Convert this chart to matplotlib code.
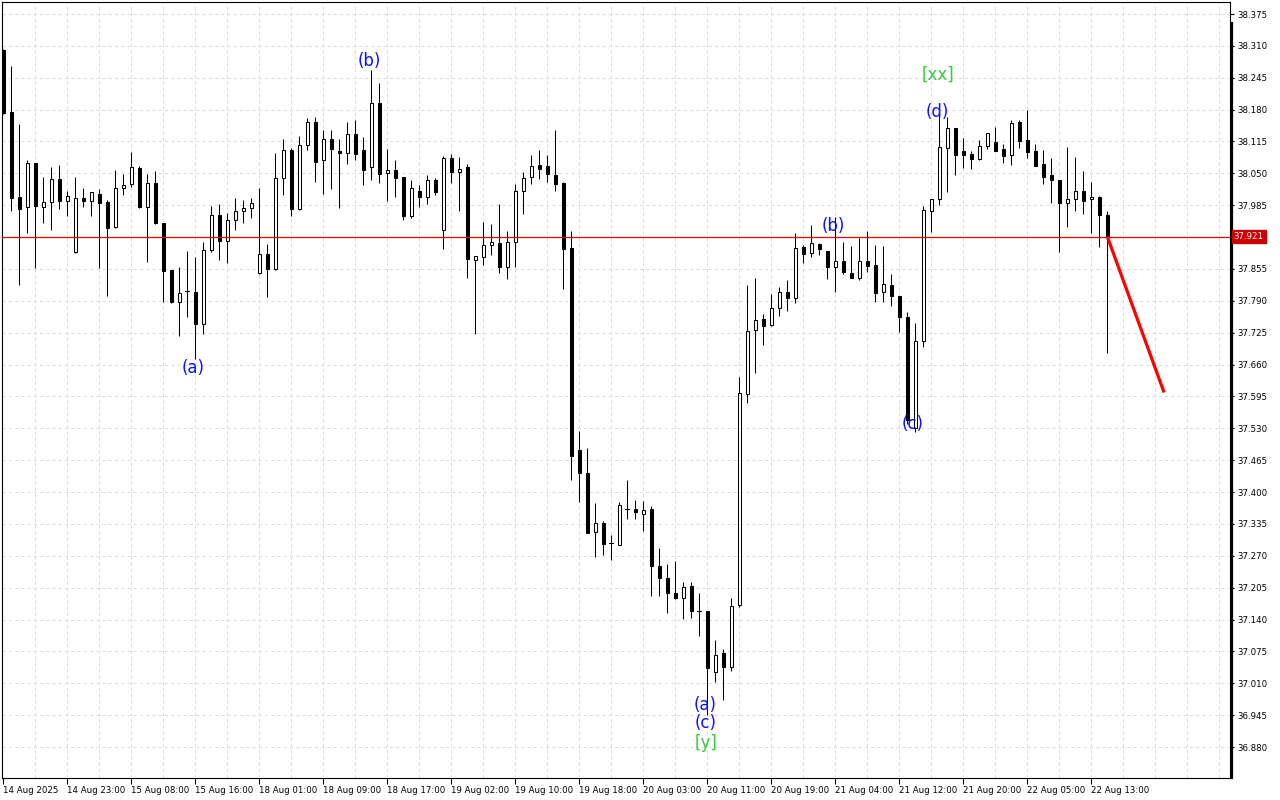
import matplotlib
matplotlib.use("Agg")
import matplotlib.pyplot as plt
from matplotlib.patches import Rectangle
from matplotlib.transforms import blended_transform_factory

# ---------------- data (H1 candles) ----------------
opens = [38.302, 38.175, 38.002, 37.981, 38.071, 37.981, 37.991, 38.038, 37.993, 37.889,
         37.999, 37.993, 38.008, 37.991, 37.941, 38.020, 38.028, 38.061, 37.981, 38.030,
         37.948, 37.853, 37.788, 37.810, 37.808, 37.742, 37.893, 37.965, 37.913, 37.954,
         37.973, 37.979, 37.846, 37.886, 37.854, 38.040, 38.097, 37.977, 38.108, 38.154,
         38.077, 38.120, 38.096, 38.091, 38.130, 38.097, 38.062, 38.193, 38.050, 38.056,
         38.043, 37.964, 38.013, 38.001, 38.036, 37.934, 38.081, 38.052, 38.063, 37.873,
         37.880, 37.903, 37.907, 37.858, 37.909, 38.013, 38.042, 38.067, 38.065, 38.047,
         38.030, 37.897, 37.485, 37.439, 37.318, 37.336, 37.296, 37.293, 37.365, 37.365,
         37.355, 37.366, 37.249, 37.224, 37.195, 37.183, 37.208, 37.157, 37.157, 37.034,
         37.071, 37.043, 37.169, 37.600, 37.730, 37.752, 37.740, 37.775, 37.807, 37.795,
         37.899, 37.887, 37.905, 37.891, 37.858, 37.871, 37.847, 37.837, 37.871, 37.863,
         37.807, 37.822, 37.799, 37.757, 37.530, 37.708, 37.974, 37.997, 38.101, 38.143,
         38.095, 38.090, 38.080, 38.105, 38.113, 38.100, 38.087, 38.154, 38.117, 38.095,
         38.069, 38.047, 38.036, 37.989, 37.997, 38.014, 37.997, 38.002, 37.966]
highs = [38.304, 38.268, 38.151, 38.077, 38.071, 38.043, 38.063, 38.067, 38.013, 38.043,
         38.020, 38.011, 38.018, 37.996, 38.057, 38.049, 38.094, 38.065, 38.049, 38.054,
         37.949, 37.853, 37.859, 37.892, 37.880, 37.910, 37.983, 37.988, 37.969, 37.999,
         37.996, 37.999, 38.020, 37.906, 38.092, 38.120, 38.102, 38.126, 38.163, 38.164,
         38.138, 38.138, 38.120, 38.155, 38.159, 38.124, 38.261, 38.234, 38.100, 38.077,
         38.043, 38.037, 38.026, 38.047, 38.040, 38.086, 38.090, 38.083, 38.069, 37.882,
         37.951, 37.947, 37.988, 37.933, 38.028, 38.053, 38.088, 38.098, 38.088, 38.138,
         38.032, 37.933, 37.525, 37.490, 37.378, 37.340, 37.312, 37.379, 37.425, 37.384,
         37.382, 37.371, 37.286, 37.253, 37.259, 37.217, 37.217, 37.194, 37.158, 37.098,
         37.079, 37.184, 37.635, 37.822, 37.837, 37.763, 37.804, 37.818, 37.833, 37.928,
         37.904, 37.944, 37.908, 37.891, 37.960, 37.910, 37.901, 37.918, 37.933, 37.903,
         37.901, 37.844, 37.800, 37.767, 37.744, 37.984, 37.998, 38.193, 38.164, 38.143,
         38.123, 38.096, 38.118, 38.132, 38.145, 38.109, 38.159, 38.159, 38.179, 38.110,
         38.098, 38.081, 38.036, 38.104, 38.083, 38.054, 38.032, 38.003, 37.973]
lows = [38.171, 37.974, 37.822, 37.929, 37.856, 37.949, 37.935, 37.978, 37.963, 37.887,
        37.982, 37.963, 37.856, 37.800, 37.939, 38.005, 38.023, 37.980, 37.870, 37.947,
        37.788, 37.786, 37.719, 37.758, 37.671, 37.722, 37.890, 37.874, 37.868, 37.935,
        37.948, 37.958, 37.845, 37.798, 37.852, 38.006, 37.962, 37.976, 38.098, 38.033,
        38.008, 38.019, 37.980, 38.069, 38.077, 38.027, 38.037, 38.031, 37.994, 38.002,
        37.954, 37.958, 37.981, 37.987, 38.005, 37.896, 38.031, 37.974, 37.837, 37.722,
        37.863, 37.884, 37.847, 37.834, 37.858, 37.967, 38.029, 38.039, 38.033, 38.015,
        37.815, 37.425, 37.380, 37.316, 37.268, 37.272, 37.261, 37.291, 37.346, 37.346,
        37.320, 37.189, 37.187, 37.154, 37.182, 37.142, 37.144, 37.107, 36.945, 37.013,
        36.975, 37.036, 37.165, 37.582, 37.643, 37.699, 37.739, 37.760, 37.769, 37.786,
        37.867, 37.880, 37.884, 37.834, 37.809, 37.844, 37.836, 37.833, 37.848, 37.787,
        37.787, 37.779, 37.726, 37.539, 37.522, 37.695, 37.931, 37.986, 38.011, 38.047,
        38.060, 38.058, 38.078, 38.100, 38.096, 38.071, 38.068, 38.102, 38.081, 38.064,
        38.029, 37.990, 37.890, 37.940, 37.974, 37.968, 37.929, 37.900, 37.684]
closes = [38.173, 38.000, 37.977, 38.071, 37.984, 37.991, 38.038, 37.993, 38.003, 37.999,
          37.993, 38.011, 37.990, 37.939, 38.020, 38.026, 38.063, 37.981, 38.030, 37.948,
          37.851, 37.788, 37.806, 37.809, 37.742, 37.893, 37.965, 37.913, 37.954, 37.973,
          37.979, 37.989, 37.885, 37.854, 38.040, 38.097, 37.977, 38.108, 38.154, 38.074,
          38.120, 38.100, 38.091, 38.130, 38.089, 38.056, 38.193, 38.048, 38.056, 38.040,
          37.964, 38.020, 38.001, 38.036, 38.011, 38.081, 38.053, 38.058, 37.875, 37.882,
          37.903, 37.911, 37.858, 37.909, 38.013, 38.040, 38.065, 38.058, 38.048, 38.028,
          37.896, 37.474, 37.438, 37.317, 37.336, 37.295, 37.296, 37.373, 37.364, 37.359,
          37.363, 37.249, 37.224, 37.195, 37.183, 37.206, 37.158, 37.156, 37.041, 37.067,
          37.043, 37.167, 37.602, 37.729, 37.750, 37.738, 37.775, 37.807, 37.795, 37.897,
          37.885, 37.907, 37.895, 37.858, 37.871, 37.848, 37.837, 37.871, 37.862, 37.806,
          37.824, 37.799, 37.757, 37.547, 37.708, 37.975, 37.998, 38.104, 38.142, 38.088,
          38.088, 38.080, 38.106, 38.132, 38.096, 38.086, 38.152, 38.115, 38.094, 38.065,
          38.043, 38.036, 37.989, 37.997, 38.014, 37.994, 38.001, 37.966, 37.921]

x_tick_labels = ["14 Aug 2025", "14 Aug 23:00", "15 Aug 08:00", "15 Aug 16:00",
                 "18 Aug 01:00", "18 Aug 09:00", "18 Aug 17:00", "19 Aug 02:00",
                 "19 Aug 10:00", "19 Aug 18:00", "20 Aug 03:00", "20 Aug 11:00",
                 "20 Aug 19:00", "21 Aug 04:00", "21 Aug 12:00", "21 Aug 20:00",
                 "22 Aug 05:00", "22 Aug 13:00"]
y_tick_values = [36.880, 36.945, 37.010, 37.075, 37.140, 37.205, 37.270, 37.335,
                 37.400, 37.465, 37.530, 37.595, 37.660, 37.725, 37.790, 37.855,
                 37.920, 37.985, 38.050, 38.115, 38.180, 38.245, 38.310, 38.375]
current_price = 37.921

# wave labels: (text, candle position, price, colour key)
wave_text = ["(a)", "(b)", "(a)", "(c)", "[y]", "(b)", "(c)", "(d)", "[xx]"]
wave_x = [23.7, 45.8, 87.7, 87.8, 87.8, 103.8, 113.7, 116.7, 116.8]
wave_y = [37.653, 38.279, 36.966, 36.929, 36.888, 37.943, 37.539, 38.175, 38.251]
wave_kind = ["minor", "minor", "minor", "minor", "major", "minor", "minor", "minor", "major"]

# forecast line
forecast_x = [138, 145.1]
forecast_y = [37.921, 37.603]

# ---------------- figure ----------------
W, H = 1280, 800
fig = plt.figure(figsize=(W / 100, H / 100), dpi=100)
fig.patch.set_facecolor("white")
ax = fig.add_axes([2 / W, 22 / H, 1228 / W, 776 / H])
ax.set_facecolor("white")

n = len(opens)
px_per_bar = 8.0
x_left = (2 - 3.3) / px_per_bar
x_right = (1230 - 3.3) / px_per_bar
ax.set_xlim(x_left, x_right)
ppx = 0.065 / 31.87
ax.set_ylim(38.375 - (778 - 14) * ppx, 38.375 + 12 * ppx)

# grid
grid_kw = dict(color="#DCDCDC", lw=0.75, dashes=(3, 3), zorder=0)
for yv in y_tick_values:
    ax.axhline(yv, **grid_kw)
for k in range(4, 156, 4):
    ax.axvline(k, **grid_kw)

# candles
lw = 0.75
bw = 0.42
for i in range(n):
    o, h, l, c = opens[i], highs[i], lows[i], closes[i]
    ax.plot([i, i], [l, h], color="black", lw=lw, zorder=2, solid_capstyle="butt")
    bottom = min(o, c)
    height = abs(c - o)
    face = "black" if c < o else "white"
    if height < 0.0015:
        ax.plot([i - bw / 2 - 0.05, i + bw / 2 + 0.05], [o, o], color="black", lw=lw, zorder=3)
    else:
        ax.add_patch(Rectangle((i - bw / 2, bottom), bw, height, facecolor=face,
                               edgecolor="black", lw=lw, zorder=3))

# current price line
ax.axhline(current_price, color="#EE0000", lw=0.9, zorder=4)

# forecast
ax.plot(forecast_x, forecast_y, color="#FF0000", lw=2.3, zorder=5, solid_capstyle="butt")

# wave labels
colors = {"minor": "#1010FF", "major": "#3CC83C"}
for t, xv, yv, k in zip(wave_text, wave_x, wave_y, wave_kind):
    ax.text(xv, yv, t, color=colors[k], fontsize=12, ha="center", va="center", zorder=6)

# axes styling
for s in ["left", "top", "bottom", "right"]:
    ax.spines[s].set_color("black")
    ax.spines[s].set_linewidth(0.8)
trans = blended_transform_factory(ax.transAxes, ax.transAxes)
ax.plot([1.0015, 1.0015], [0, 1 - 21 / 776], color="black", lw=1.6,
        transform=trans, clip_on=False, zorder=7)

ax.yaxis.tick_right()
ax.set_yticks(y_tick_values)
ax.set_yticklabels(["" if abs(v - 37.920) < 1e-6 else f"{v:.3f}" for v in y_tick_values])
ax.tick_params(axis="y", direction="out", length=3, width=0.8, pad=2,
               labelsize=6.2, colors="black")

ax.set_xticks(list(range(0, 8 * len(x_tick_labels), 8)))
ax.set_xticklabels(x_tick_labels)
for lab in ax.get_xticklabels():
    lab.set_horizontalalignment("left")
ax.tick_params(axis="x", direction="out", length=4, width=0.8, pad=2,
               labelsize=6.2, colors="black")

# price tag
ax.text(1.0030, current_price, f"{current_price:.3f}", transform=ax.get_yaxis_transform(),
        ha="left", va="center", fontsize=6.2, color="white", zorder=8, clip_on=False,
        bbox=dict(boxstyle="square,pad=0.25", facecolor="#CC0000", edgecolor="#CC0000"))

fig.savefig("out.png", dpi=100, facecolor="white")
